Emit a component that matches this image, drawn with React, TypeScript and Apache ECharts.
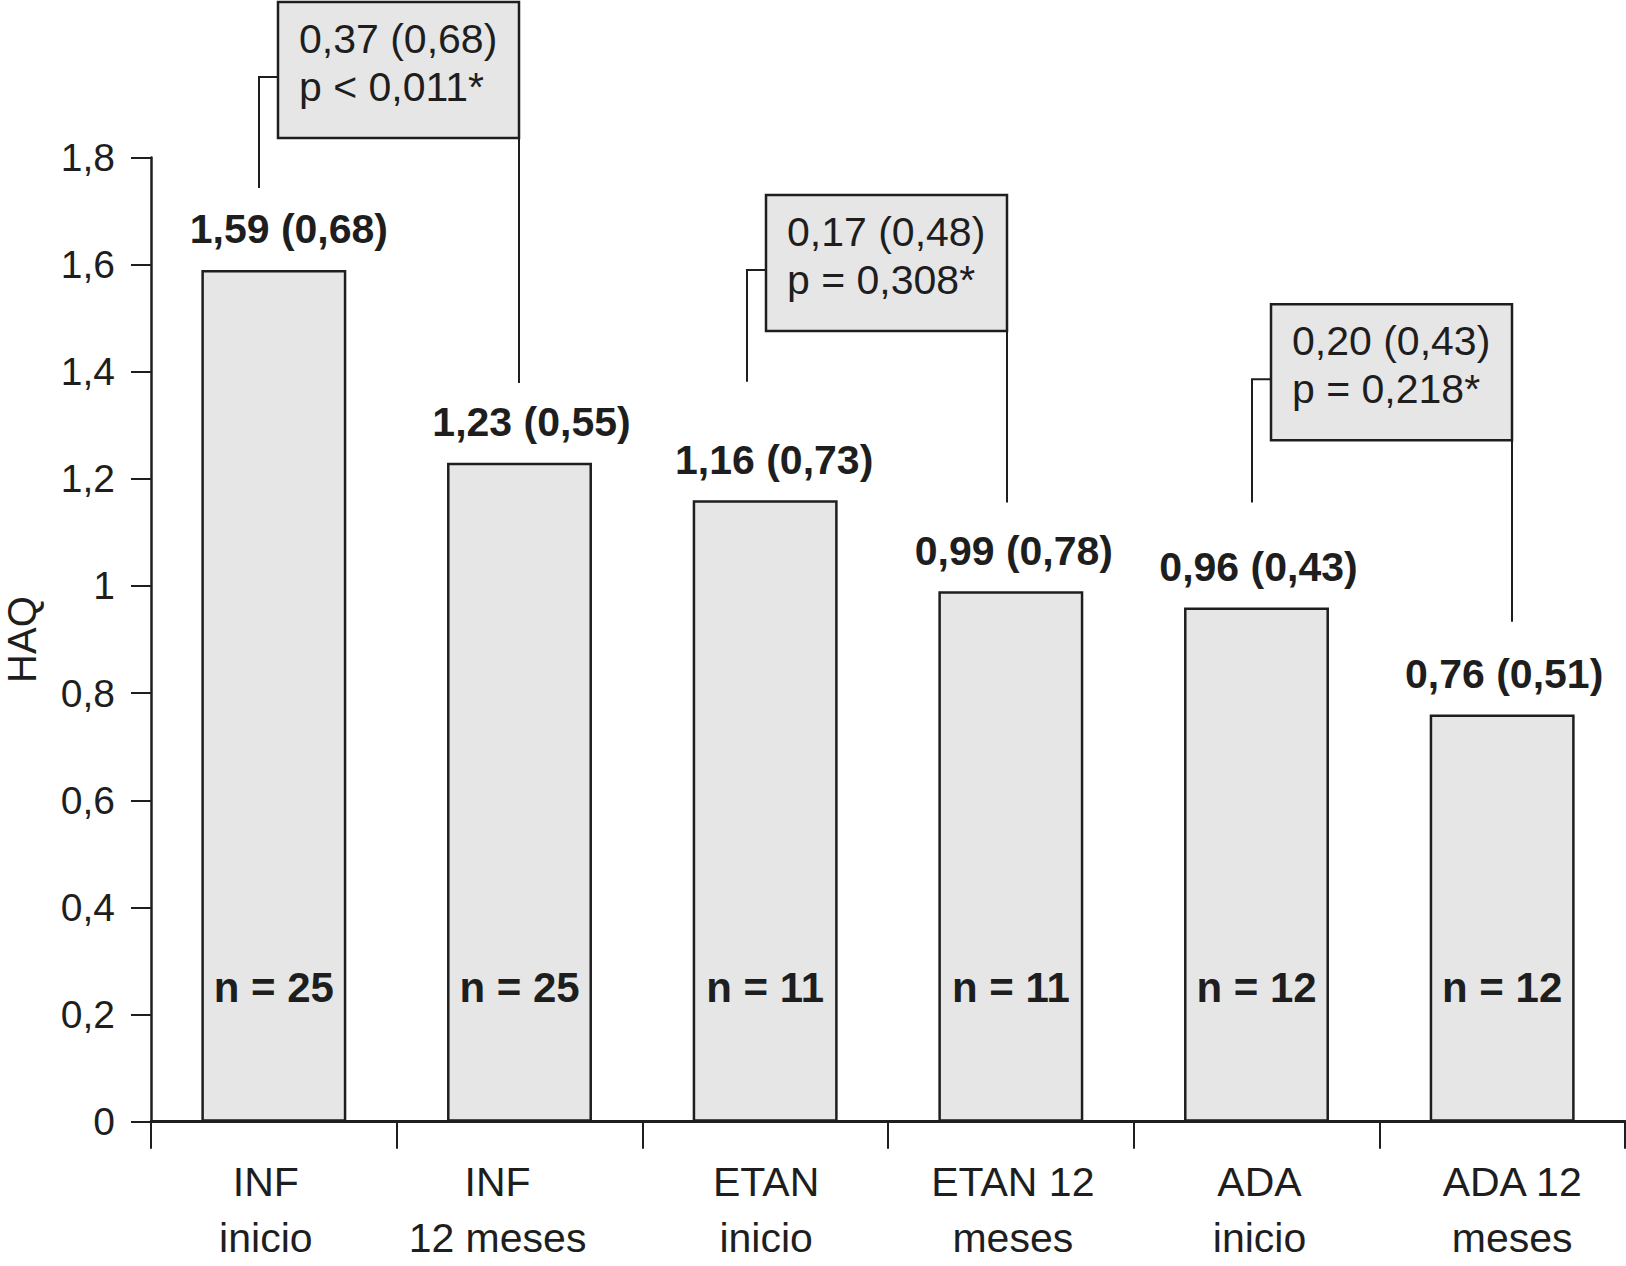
import React, { useEffect, useRef } from "react";
import * as echarts from "echarts";

// ---- data ----
const categories = [
  "INF\ninicio",
  "INF\n12 meses",
  "ETAN\ninicio",
  "ETAN 12\nmeses",
  "ADA\ninicio",
  "ADA 12\nmeses",
];
const meanHAQ = [1.59, 1.23, 1.16, 0.99, 0.96, 0.76];
const sdHAQ = [0.68, 0.55, 0.73, 0.78, 0.43, 0.51];
const nPatients = [25, 25, 11, 11, 12, 12];
const yMin = 0;
const yMax = 1.8;
const yStep = 0.2;
const comparisons = [
  [0, 1],
  [2, 3],
  [4, 5],
];
const diffLabels = ["0,37 (0,68)", "0,17 (0,48)", "0,20 (0,43)"];
const pLabels = ["p < 0,011*", "p = 0,308*", "p = 0,218*"];

// ---- layout (pixel nudges / bracket geometry), kept apart from the data ----
const valueLabelDx = [15, 12, 9, 3, 2, 2];
const categoryLabelDx = [-8, -22, 1, 2, 3, 10];
const bracketLayout = [
  { boxTop: 2.09, stemBottom: 1.743, dropBottom: 1.379, anchorDx: -15 },
  { boxTop: 1.73, stemBottom: 1.381, dropBottom: 1.156, anchorDx: -18 },
  { boxTop: 1.526, stemBottom: 1.156, dropBottom: 0.933, anchorDx: -5 },
];

const FONT = "Liberation Sans, Arial, Helvetica, sans-serif";
const INK = "#1e1e1e";
const FILL = "#e6e6e6";

const dec = (v: number) => v.toFixed(2).replace(".", ",");

export default function App() {
  const ref = useRef<HTMLDivElement>(null);

  useEffect(() => {
    if (!ref.current) return;
    const chart = echarts.init(ref.current, undefined, { renderer: "svg" });

    const option: any = {
      animation: false,
      backgroundColor: "#ffffff",
      textStyle: { fontFamily: FONT, color: INK },
      grid: {
        left: 151,
        right: 1,
        top: 157.4,
        bottom: 144.3,
        containLabel: false,
        outerBoundsMode: "none",
      },
      xAxis: {
        type: "category",
        data: categories.map((c, i) => {
          const dx = categoryLabelDx[i];
          return {
            value: c,
            textStyle: {
              padding: dx < 0 ? [0, -2 * dx, 0, 0] : [0, 0, 0, 2 * dx],
            },
          };
        }),
        boundaryGap: true,
        axisLine: { show: true, lineStyle: { color: INK, width: 3 } },
        axisTick: {
          show: true,
          alignWithLabel: false,
          interval: 0,
          length: 27,
          lineStyle: { color: INK, width: 2 },
        },
        axisLabel: {
          interval: 0,
          margin: 32,
          fontSize: 41,
          lineHeight: 56,
          color: INK,
          fontFamily: FONT,
        },
        splitLine: { show: false },
      },
      yAxis: {
        type: "value",
        min: yMin,
        max: yMax,
        interval: yStep,
        name: "HAQ",
        nameLocation: "middle",
        nameRotate: 90,
        nameGap: 109,
        nameTextStyle: { fontSize: 40, lineHeight: 40, color: INK, fontFamily: FONT },
        axisLine: { show: true, lineStyle: { color: INK, width: 2.5 } },
        axisTick: { show: true, length: 20, lineStyle: { color: INK, width: 2 } },
        axisLabel: {
          margin: 36,
          fontSize: 39,
          color: INK,
          fontFamily: FONT,
          formatter: (v: number) => String(+v.toFixed(1)).replace(".", ","),
        },
        splitLine: { show: false },
      },
      series: [
        {
          type: "bar",
          data: meanHAQ.map((v, i) => ({
            value: v,
            label: { offset: [valueLabelDx[i], 0] },
          })),
          barWidth: "59%",
          barGap: "-100%",
          itemStyle: { color: FILL, borderColor: INK, borderWidth: 2.5 },
          label: {
            show: true,
            position: "top",
            distance: 20,
            fontSize: 41,
            lineHeight: 41,
            fontWeight: "bold",
            color: INK,
            fontFamily: FONT,
            formatter: (p: any) => `${dec(meanHAQ[p.dataIndex])} (${dec(sdHAQ[p.dataIndex])})`,
          },
          z: 2,
        },
        {
          type: "bar",
          data: meanHAQ,
          barWidth: "59%",
          barGap: "-100%",
          itemStyle: { color: "rgba(0,0,0,0)", borderWidth: 0 },
          label: {
            show: true,
            position: "insideBottom",
            distance: 113,
            fontSize: 42,
            lineHeight: 42,
            fontWeight: "bold",
            color: INK,
            fontFamily: FONT,
            formatter: (p: any) => `n = ${nPatients[p.dataIndex]}`,
          },
          z: 3,
        },
        {
          type: "custom",
          clip: false,
          z: 4,
          data: comparisons.map((c) => [c[0], c[1]]),
          encode: { x: 0, y: 1 },
          renderItem: (params: any, api: any) => {
            const i = params.dataIndex;
            const L = bracketLayout[i];
            const cx = api.coord([api.value(0), 0])[0];
            const anchorX = Math.round(cx + L.anchorDx);
            const yTop = api.coord([0, L.boxTop])[1];
            const yStem = api.coord([0, L.stemBottom])[1];
            const yDrop = api.coord([0, L.dropBottom])[1];
            const boxW = 241;
            const boxH = 136;
            const boxLeft = anchorX + 19;
            const boxRight = boxLeft + boxW;
            const connY = yTop + 75;
            return {
              type: "group",
              children: [
                {
                  type: "polyline",
                  shape: {
                    points: [
                      [anchorX, yStem],
                      [anchorX, connY],
                      [boxLeft, connY],
                    ],
                  },
                  style: { stroke: INK, lineWidth: 2, fill: null },
                },
                {
                  type: "line",
                  shape: { x1: boxRight, y1: yTop + boxH, x2: boxRight, y2: yDrop },
                  style: { stroke: INK, lineWidth: 2 },
                },
                {
                  type: "rect",
                  shape: { x: boxLeft, y: yTop, width: boxW, height: boxH },
                  style: { fill: FILL, stroke: INK, lineWidth: 2.5 },
                },
                {
                  type: "text",
                  style: {
                    x: boxLeft + 21,
                    y: yTop + 37,
                    text: diffLabels[i],
                    fontSize: 41,
                    fontFamily: FONT,
                    fill: INK,
                    align: "left",
                    verticalAlign: "middle",
                  },
                },
                {
                  type: "text",
                  style: {
                    x: boxLeft + 21,
                    y: yTop + 85,
                    text: pLabels[i],
                    fontSize: 41,
                    fontFamily: FONT,
                    fill: INK,
                    align: "left",
                    verticalAlign: "middle",
                  },
                },
              ],
            };
          },
        },
      ],
    };

    chart.setOption(option);
    return () => chart.dispose();
  }, []);

  return (
    <div
      ref={ref}
      style={{ position: "fixed", left: 0, top: 0, width: 1626, height: 1266, background: "#fff" }}
    />
  );
}
